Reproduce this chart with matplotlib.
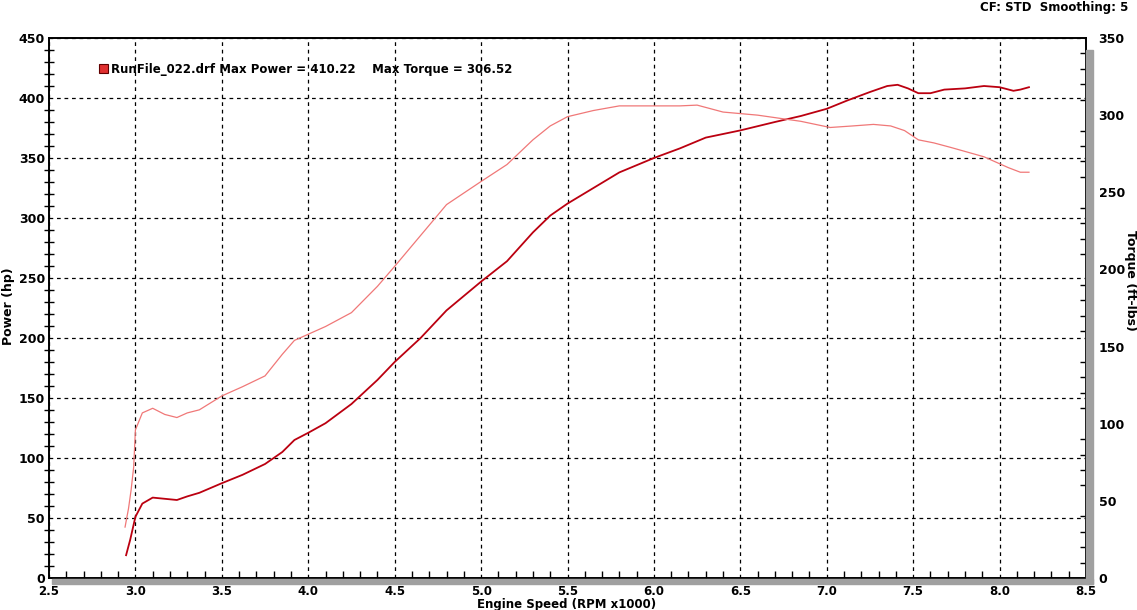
import matplotlib.pyplot as plt
import numpy as np
from matplotlib.patches import Rectangle
from matplotlib.ticker import MultipleLocator

# power curve (hp vs RPM x1000)
rpm_power = [2.946, 2.97, 3.0, 3.04, 3.1, 3.17, 3.24, 3.3, 3.37, 3.5, 3.62, 3.75, 3.85, 3.92, 4.0,
             4.1, 4.25, 4.4, 4.5, 4.65, 4.8, 5.0, 5.15, 5.3, 5.4, 5.5, 5.65, 5.8, 6.0, 6.15, 6.3, 6.5,
             6.7, 6.85, 7.0, 7.12, 7.25, 7.35, 7.41, 7.47, 7.53, 7.6, 7.68, 7.8, 7.91, 8.0, 8.08,
             8.12, 8.17]
power = [19, 32, 51, 62, 67, 66, 65, 68, 71, 79, 86, 95, 105, 115, 121,
         129, 145, 165, 180, 200, 223, 247, 264, 288, 302, 312, 325, 338, 350, 358, 367, 373,
         380, 385, 391, 398, 405, 410, 411, 408, 404, 404, 407, 408, 410, 409, 406,
         407, 409]

# torque curve (ft-lbs vs RPM x1000)
rpm_torque = [2.94, 2.96, 2.975, 2.99, 3.0, 3.04, 3.1, 3.17, 3.24, 3.3, 3.37, 3.5, 3.62, 3.75,
              3.85, 3.92, 4.0, 4.1, 4.25, 4.4, 4.5, 4.65, 4.8, 5.0, 5.15, 5.3, 5.4, 5.5, 5.65, 5.8,
              6.0, 6.15, 6.25, 6.4, 6.6, 6.85, 7.02, 7.15, 7.27, 7.37, 7.45, 7.53, 7.62, 7.72,
              7.91, 8.05, 8.12, 8.17]
torque = [33, 45, 57, 72, 96, 107, 110, 106, 104, 107, 109, 118, 124, 131,
          145, 154, 158, 163, 172, 189, 202, 222, 242, 257, 268, 284, 293, 299, 303, 306,
          306, 306, 306.5, 302, 300, 296, 292, 293, 294, 293, 290, 284, 282, 279,
          273, 266, 263, 263]

run_name = 'RunFile_022.drf'
max_power = 410.22
max_torque = 306.52

power_color = '#bb0010'
torque_color = '#f07878'

fig = plt.figure(figsize=(11.37, 6.10), dpi=100)
ax = fig.add_axes([49 / 1137, 1 - 578 / 610, (1086 - 49) / 1137, (578 - 38) / 610])
ax2 = ax.twinx()

ax.plot(rpm_power, power, color=power_color, lw=1.3, zorder=3)
ax2.plot(rpm_torque, torque, color=torque_color, lw=0.9, zorder=3)

ax.set_xlim(2.5, 8.5)
ax.set_ylim(0, 450)
ax2.set_ylim(0, 350)

ax.xaxis.set_major_locator(MultipleLocator(0.5))
ax.xaxis.set_minor_locator(MultipleLocator(0.1))
ax.yaxis.set_major_locator(MultipleLocator(50))
ax.yaxis.set_minor_locator(MultipleLocator(10))
ax2.yaxis.set_major_locator(MultipleLocator(50))
ax2.yaxis.set_minor_locator(MultipleLocator(10))
ax.xaxis.set_major_formatter(lambda v, p: '%.1f' % v)

ax.grid(True, which='major', color='black', ls=(0, (3, 3)), lw=0.9)
ax.set_axisbelow(True)

for lab in ax.get_xticklabels() + ax.get_yticklabels() + ax2.get_yticklabels():
    lab.set_fontweight('bold')
ax.tick_params(axis='x', which='both', direction='in', labelsize=8.5, pad=5, color='black')
ax.tick_params(axis='x', which='major', length=0)
ax.tick_params(axis='x', which='minor', length=5, width=1)
ax.tick_params(axis='y', which='both', direction='inout', labelsize=9, pad=3)
ax.tick_params(axis='y', which='major', length=0)
ax.tick_params(axis='y', which='minor', length=7, width=1)
ax2.tick_params(axis='y', which='both', direction='in', labelsize=9, pad=9)
ax2.tick_params(axis='y', which='major', length=0)
ax2.tick_params(axis='y', which='minor', length=4, width=1)

for a in (ax, ax2):
    for s in a.spines.values():
        s.set_linewidth(1.2)
        s.set_color('black')

# gray drop shadow along bottom and right edges
fig.patches.append(Rectangle((52 / 1137, 1 - 584 / 610), (1093 - 52) / 1137, 5 / 610,
                             transform=fig.transFigure, color='#a0a0a0', zorder=0))
fig.patches.append(Rectangle((1086 / 1137, 1 - 584 / 610), 7 / 1137, (584 - 50) / 610,
                             transform=fig.transFigure, color='#a0a0a0', zorder=0))

fig.text(567 / 1137, 1 - 604.5 / 610, 'Engine Speed (RPM x1000)', fontsize=8.5,
         fontweight='bold', ha='center', va='center')
fig.text(9 / 1137, 1 - 306 / 610, 'Power (hp)', fontsize=9, fontweight='bold',
         rotation=90, ha='center', va='center')
fig.text(1130 / 1137, 1 - 280 / 610, 'Torque (ft-lbs)', fontsize=9, fontweight='bold',
         rotation=270, ha='center', va='center')

# legend entry
fig.patches.append(Rectangle((99 / 1137, 1 - 73 / 610), 9 / 1137, 9 / 610,
                             transform=fig.transFigure, facecolor='#e03030',
                             edgecolor='#600000', lw=0.8, zorder=5))
fig.text(111 / 1137, 1 - 70 / 610,
         '%s Max Power = %.2f    Max Torque = %.2f' % (run_name, max_power, max_torque),
         fontsize=8.5, fontweight='bold', va='center', ha='left')

fig.text(1128 / 1137, 1 - 7 / 610, 'CF: STD  Smoothing: 5', fontsize=8.5,
         fontweight='bold', va='center', ha='right')

fig.savefig('out.png', dpi=100, facecolor='white')
